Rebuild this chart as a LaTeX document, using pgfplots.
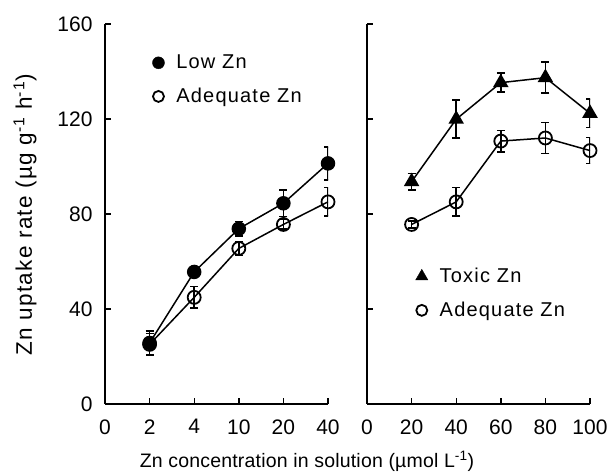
\documentclass[border=0pt]{standalone}
\usepackage{fontspec}
\setmainfont{Liberation Sans}
\newfontfamily\spacedfont[LetterSpace=6]{Liberation Sans}
\newfontfamily\xlabfont[LetterSpace=1]{Liberation Sans}
\newfontfamily\ylabfont[LetterSpace=6]{Liberation Sans}
\usepackage{pgfplots}
\pgfplotsset{compat=1.18}
\usepackage{pgfplotstable}

% left panel: categories 1..5 = 2, 4, 10, 20, 40
\pgfplotstableread{
x y e
1 25.7 5
2 55.6 2
3 73.8 3
4 84.5 5.5
5 101.3 7
}\lowzn
\pgfplotstableread{
x y e
1 25.1 4.5
2 44.9 4.5
3 65.5 3
4 75.6 2
5 85.1 6
}\adeqleft
% right panel
\pgfplotstableread{
x y e
20 93.6 3.5
40 119.9 8
60 135.3 4
80 137.4 6.5
100 122.4 6
}\toxic
\pgfplotstableread{
x y e
20 75.6 1.5
40 85.1 6
60 110.7 4.5
80 112.0 6.5
100 106.7 5.5
}\adeqright

\pgfplotsset{
  panel/.style={
    scale only axis, width=223pt, height=380pt,
    axis x line*=bottom, axis y line*=left,
    ymin=0, ymax=160, ytick={0,40,...,160},
    tick align=inside, major tick length=6pt,
    axis line style={line width=1.6pt},
    every tick/.style={line width=1.4pt, black},
    /pgf/number format/assume math mode=true,
    ticklabel style={font=\fontsize{21}{21}\selectfont},
    yticklabel style={xshift=-9pt},
    xticklabel style={yshift=-12pt},
    legend style={draw=none, fill=none, font=\spacedfont\fontsize{20}{20}\selectfont,
      row sep=14pt, legend cell align=left},
    legend image code/.code={\draw[#1] plot coordinates {(0pt,0pt)};\path (-7pt,0pt) (15pt,0pt);},
  },
  ser/.style={black, line width=1.5pt,
    /pgfplots/error bars/y dir=both, /pgfplots/error bars/y explicit,
    /pgfplots/error bars/error bar style={line width=1.5pt},
    /pgfplots/error bars/error mark options={rotate=90, mark size=4pt, line width=1.5pt}},
}

\begin{document}
\begin{tikzpicture}
\path[use as bounding box] (-105pt,-69pt) rectangle (508pt,404pt);

\begin{axis}[panel,
  xmin=0, xmax=5, xtick={0,1,2,3,4,5}, xticklabels={0,2,4,10,20,40},
  legend style={at={(0.19,0.929)}, anchor=north west}]
\addplot[ser, mark=*, mark size=6.5pt, mark options={fill=black}, forget plot]
  table[x=x, y=y, y error=e]{\lowzn};
\addplot[ser, mark=o, mark size=6.5pt, mark options={fill=white, line width=1.8pt}, forget plot]
  table[x=x, y=y, y error=e]{\adeqleft};
\addlegendimage{only marks, mark=*, mark size=6pt, black}
\addlegendentry{Low Zn}
\addlegendimage{only marks, mark=o, mark size=5.5pt, black, line width=1.8pt}
\addlegendentry{Adequate Zn}
\end{axis}

\begin{axis}[panel, at={(262pt,0pt)}, yticklabels={},
  xmin=0, xmax=100, xtick={0,20,...,100},
  legend style={at={(0.196,0.368)}, anchor=north west}]
\addplot[ser, mark=triangle*, mark size=7.5pt, mark options={fill=black}, forget plot]
  table[x=x, y=y, y error=e]{\toxic};
\addplot[ser, mark=o, mark size=6.5pt, mark options={fill=white, line width=1.8pt}, forget plot]
  table[x=x, y=y, y error=e]{\adeqright};
\addlegendimage{only marks, mark=triangle*, mark size=7pt, black}
\addlegendentry{Toxic Zn}
\addlegendimage{only marks, mark=o, mark size=5.5pt, black, line width=1.8pt}
\addlegendentry{Adequate Zn}
\end{axis}

\node[anchor=base, font=\xlabfont\fontsize{19.5}{19.5}\selectfont] at (202pt,-64pt)
  {Zn concentration in solution (µmol L\textsuperscript{-1})};
\node[anchor=base, rotate=90, font=\ylabfont\fontsize{22.5}{22.5}\selectfont] at (-73pt,189pt)
  {Zn uptake rate (µg g\textsuperscript{-1} h\textsuperscript{-1})};
\end{tikzpicture}
\end{document}
